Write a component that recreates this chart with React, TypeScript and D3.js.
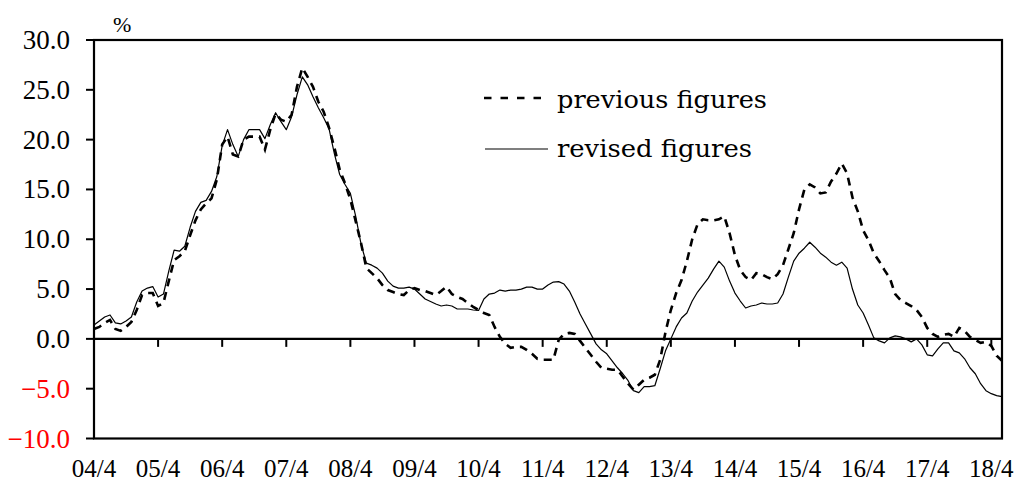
import React, { useRef, useEffect } from 'react';
import * as d3 from 'd3';

// monthly, 2004/4 .. 2018/6
const revised = [
  1.4, 1.8, 2.2, 2.4, 1.6, 1.5, 1.8, 2.2, 3.7, 4.8, 5.1, 5.25,
  4.2, 4.5, 6.8, 8.9, 8.8, 9.3, 11.2, 12.8, 13.7, 13.9, 14.8, 16.3,
  19.4, 21.0, 19.5, 18.3, 20.0, 21.0, 21.0, 21.0, 20.1, 21.5, 22.7, 21.8,
  21.0, 22.3, 24.5, 26.3, 25.5, 24.3, 23.2, 22.2, 21.1, 18.6, 16.5, 15.5,
  14.6, 12.3, 9.5, 7.6, 7.4, 7.1, 6.6, 5.8, 5.3, 5.1, 5.1, 5.2,
  5.0, 4.5, 4.0, 3.75, 3.5, 3.3, 3.4, 3.3, 3.0, 3.0, 3.0, 2.9,
  2.85, 4.0, 4.5, 4.6, 4.9, 4.8, 4.9, 4.9, 5.0, 5.2, 5.2, 5.0,
  5.0, 5.4, 5.7, 5.75, 5.5, 4.8, 3.7, 2.5, 1.5, 0.5, -0.5, -1.1,
  -1.5, -2.2, -2.9, -3.5, -4.2, -5.2, -5.4, -4.8, -4.8, -4.7, -3.0, -1.2,
  0.0, 1.2, 2.1, 2.6, 3.8, 4.7, 5.4, 6.1, 7.0, 7.8, 7.2, 5.8,
  4.6, 3.8, 3.1, 3.3, 3.4, 3.6, 3.5, 3.5, 3.6, 4.5, 6.2, 7.8,
  8.6, 9.1, 9.7, 9.2, 8.6, 8.2, 7.7, 7.4, 7.7, 7.1, 5.0, 3.4,
  2.6, 1.4, 0.1, -0.2, -0.4, 0.1, 0.3, 0.2, 0.0, -0.3, 0.0, -0.6,
  -1.6, -1.7, -1.0, -0.4, -0.4, -1.2, -1.4, -2.0, -2.9, -3.5, -4.5, -5.2,
  -5.5, -5.7, -5.8,
];

const previous = [
  1.0, 1.2, 1.6, 1.9, 1.0, 0.8, 1.2, 1.7, 2.9, 4.4, 4.6, 4.6,
  3.3, 3.6, 5.8, 7.9, 8.3, 8.8, 10.4, 11.9, 13.0, 13.6, 14.1, 16.0,
  19.5, 20.3, 18.5, 18.3, 20.0, 20.3, 20.3, 20.3, 19.0, 21.0, 22.6, 22.0,
  21.8, 22.5, 25.3, 27.2, 26.3, 25.3, 23.8, 22.8, 21.2, 19.2, 17.0, 15.6,
  14.0, 11.8, 9.6, 7.1, 6.6, 6.1, 5.4, 4.9, 4.7, 4.5, 4.4, 4.9,
  5.1, 4.9, 4.8, 4.6, 4.4, 4.8, 5.25, 4.5, 4.2, 4.0, 3.6, 3.2,
  2.9, 2.6, 2.4, 1.2, 0.2, -0.5, -0.9, -0.8, -0.8, -1.1, -1.5, -2.0,
  -2.1, -2.1, -2.1, -0.1, 0.5, 0.6, 0.5, -0.2, -0.9, -1.6, -2.3, -2.9,
  -3.0, -3.1, -3.1, -3.8, -4.5, -5.1, -4.6, -4.1, -3.9, -3.6, -2.1, 0.7,
  2.9, 4.6, 5.9, 7.8, 10.0, 11.5, 12.0, 11.9, 11.9, 12.0, 12.3, 10.6,
  8.4, 6.9, 6.2, 5.9, 6.6, 6.5, 6.2, 6.0, 6.5, 7.4, 9.0, 10.6,
  13.0, 15.0, 15.5, 15.2, 14.6, 14.7, 15.8, 16.6, 17.6, 16.6, 14.2, 12.8,
  10.9, 9.9, 8.6, 7.8, 6.9, 6.1, 4.5, 3.9, 3.6, 3.3, 2.9, 2.2,
  1.1, 0.5, 0.2, 0.4, 0.5, 0.2, 1.1, 0.8, 0.2, -0.1, -0.4, -0.3,
  -0.7, -1.7, -2.2,
];

const xTickLabels = ['04/4', '05/4', '06/4', '07/4', '08/4', '09/4', '10/4', '11/4', '12/4', '13/4', '14/4', '15/4', '16/4', '17/4', '18/4'];
const yTicks = [30, 25, 20, 15, 10, 5, 0, -5, -10];

const App = () => {
  const svgRef = useRef(null);
  const width = 1018;
  const height = 483;

  useEffect(() => {
    const svg = d3.select(svgRef.current);
    svg.selectAll('*').remove();

    const left = 94, right = 1002, top = 40, bottom = 438.5;
    const n = revised.length;

    const x = d3.scaleLinear().domain([0, n - 1]).range([left, right]);
    const y = d3.scaleLinear().domain([-10, 30]).range([bottom, top]);

    const font = '"Liberation Serif", "Times New Roman", serif';

    // y axis labels + ticks
    yTicks.forEach(t => {
      svg.append('line')
        .attr('x1', left - 8).attr('x2', left)
        .attr('y1', y(t)).attr('y2', y(t))
        .attr('stroke', '#000').attr('stroke-width', 2);
      svg.append('text')
        .attr('x', 70).attr('y', y(t) + 9)
        .attr('text-anchor', 'end')
        .attr('font-family', font).attr('font-size', 27)
        .attr('fill', t < 0 ? '#ff0000' : '#000')
        .text(d3.format('.1f')(t));
    });

    svg.append('text')
      .attr('x', 113).attr('y', 32)
      .attr('font-family', font).attr('font-size', 22)
      .text('%');

    // frame
    svg.append('rect')
      .attr('x', left).attr('y', top)
      .attr('width', right - left).attr('height', bottom - top)
      .attr('fill', 'none').attr('stroke', '#000').attr('stroke-width', 2.2);

    // zero line + x ticks
    svg.append('line')
      .attr('x1', left).attr('x2', right)
      .attr('y1', y(0)).attr('y2', y(0))
      .attr('stroke', '#000').attr('stroke-width', 2.2);

    xTickLabels.forEach((lab, i) => {
      const px = x(i * 12);
      svg.append('line')
        .attr('x1', px).attr('x2', px)
        .attr('y1', y(0)).attr('y2', y(0) + 8)
        .attr('stroke', '#000').attr('stroke-width', 2);
      svg.append('text')
        .attr('x', px).attr('y', 477)
        .attr('text-anchor', 'middle')
        .attr('font-family', font).attr('font-size', 25)
        .text(lab);
    });

    const line = d3.line()
      .x((d, i) => x(i))
      .y(d => y(d));

    svg.append('path')
      .datum(revised)
      .attr('fill', 'none')
      .attr('stroke', '#000')
      .attr('stroke-width', 1.2)
      .attr('stroke-linejoin', 'round')
      .attr('d', line);

    svg.append('path')
      .datum(previous)
      .attr('fill', 'none')
      .attr('stroke', '#000')
      .attr('stroke-width', 2.6)
      .attr('stroke-dasharray', '8,6')
      .attr('d', line);

    // legend
    const legFont = '"DejaVu Serif", serif';
    svg.append('line')
      .attr('x1', 484).attr('x2', 548).attr('y1', 98).attr('y2', 98)
      .attr('stroke', '#000').attr('stroke-width', 2.6)
      .attr('stroke-dasharray', '7.5,9');
    svg.append('text')
      .attr('x', 557).attr('y', 108)
      .attr('font-family', legFont).attr('font-size', 25)
      .attr('textLength', 210).attr('lengthAdjust', 'spacingAndGlyphs')
      .text('previous figures');
    svg.append('line')
      .attr('x1', 485).attr('x2', 548).attr('y1', 149).attr('y2', 149)
      .attr('stroke', '#000').attr('stroke-width', 1.2);
    svg.append('text')
      .attr('x', 557).attr('y', 157)
      .attr('font-family', legFont).attr('font-size', 25)
      .attr('textLength', 195).attr('lengthAdjust', 'spacingAndGlyphs')
      .text('revised figures');
  }, []);

  return (
    <svg ref={svgRef} width={width} height={height}
      style={{ position: 'absolute', left: 0, top: 0, background: '#fff' }} />
  );
};

export default App;
